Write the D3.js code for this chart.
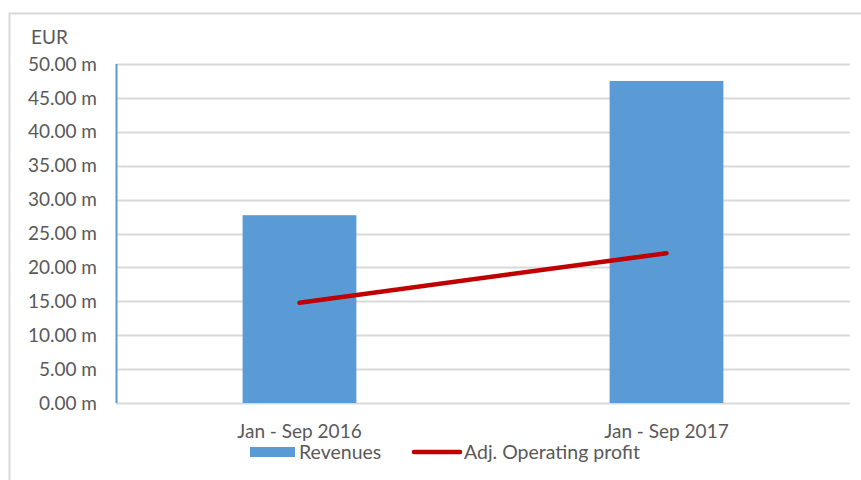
<!DOCTYPE html>
<html>
<head>
<meta charset="utf-8">
<script src="https://cdn.jsdelivr.net/npm/d3@7"></script>
<style>
  html, body { margin: 0; padding: 0; background: #fff; }
  #chart { width: 861px; height: 480px; }
  text { font-family: Lato, "Open Sans", sans-serif; fill: #595959; }
</style>
</head>
<body>
<div id="chart"></div>
<script>
// Revenues vs adjusted operating profit, EUR millions
const periods = ["Jan - Sep 2016", "Jan - Sep 2017"];
const revenues = [27.7, 47.5];
const adjOperatingProfit = [14.8, 22.1];
const yTicks = [0, 5, 10, 15, 20, 25, 30, 35, 40, 45, 50];

function renderChart(containerId) {
  const container = d3.select(`#${containerId}`);
  const width = 861, height = 480;
  const margin = { top: 64, right: 11, bottom: 77, left: 116 };

  const svg = container.append("svg")
    .attr("width", width)
    .attr("height", height);

  // chart frame (open on right/bottom, as cropped in the source)
  svg.append("path")
    .attr("d", `M9.5,${height}V13.5H${width}`)
    .attr("fill", "none")
    .attr("stroke", "#d9d9d9")
    .attr("stroke-width", 2);

  const innerWidth = width - margin.left - margin.right;
  const innerHeight = height - margin.top - margin.bottom;

  const g = svg.append("g")
    .attr("transform", `translate(${margin.left},${margin.top})`);

  const x = d3.scaleBand()
    .domain(periods)
    .range([0, innerWidth]);

  const y = d3.scaleLinear()
    .domain([0, 50])
    .range([innerHeight, 0]);

  // gridlines
  g.append("g")
    .selectAll("line")
    .data(yTicks)
    .join("line")
    .attr("x1", 0)
    .attr("x2", innerWidth)
    .attr("y1", d => Math.round(y(d)) + 0.5)
    .attr("y2", d => Math.round(y(d)) + 0.5)
    .attr("stroke", "#d9d9d9")
    .attr("stroke-width", 2);

  // y tick labels
  g.append("g")
    .selectAll("text")
    .data(yTicks)
    .join("text")
    .attr("x", -19)
    .attr("y", d => y(d))
    .attr("dy", "0.35em")
    .attr("text-anchor", "end")
    .style("font-size", "19px")
    .text(d => d3.format(".2f")(d) + " m");

  // y axis line (blue)
  g.append("line")
    .attr("x1", 0.5).attr("x2", 0.5)
    .attr("y1", 0).attr("y2", innerHeight)
    .attr("stroke", "#5b9bd5")
    .attr("stroke-width", 2);

  // unit label
  svg.append("text")
    .attr("x", 31)
    .attr("y", 44)
    .style("font-size", "19px")
    .text("EUR");

  // bars
  const barW = x.bandwidth() * 0.31;
  g.selectAll("rect.bar")
    .data(revenues)
    .join("rect")
    .attr("class", "bar")
    .attr("x", (d, i) => x(periods[i]) + x.bandwidth() / 2 - barW / 2)
    .attr("y", d => y(d))
    .attr("width", barW)
    .attr("height", d => innerHeight - y(d))
    .attr("fill", "#5b9bd5");

  // line series
  const line = d3.line()
    .x((d, i) => x(periods[i]) + x.bandwidth() / 2)
    .y(d => y(d));

  g.append("path")
    .datum(adjOperatingProfit)
    .attr("d", line)
    .attr("fill", "none")
    .attr("stroke", "#c00000")
    .attr("stroke-width", 4.5)
    .attr("stroke-linecap", "round");

  // category labels
  g.append("g")
    .selectAll("text")
    .data(periods)
    .join("text")
    .attr("x", d => x(d) + x.bandwidth() / 2)
    .attr("y", innerHeight + 35)
    .attr("text-anchor", "middle")
    .style("font-size", "19px")
    .text(d => d);

  // legend
  const legend = svg.append("g");
  legend.append("rect")
    .attr("x", 250).attr("y", 447)
    .attr("width", 45).attr("height", 10)
    .attr("fill", "#5b9bd5");
  legend.append("text")
    .attr("x", 299).attr("y", 459)
    .style("font-size", "19.5px")
    .text("Revenues");
  legend.append("line")
    .attr("x1", 414).attr("x2", 460)
    .attr("y1", 452).attr("y2", 452)
    .attr("stroke", "#c00000")
    .attr("stroke-width", 4.5)
    .attr("stroke-linecap", "round");
  legend.append("text")
    .attr("x", 464).attr("y", 459)
    .style("font-size", "19.5px")
    .text("Adj. Operating profit");
}

document.addEventListener("DOMContentLoaded", () => {
  renderChart("chart");
});
</script>
</body>
</html>
